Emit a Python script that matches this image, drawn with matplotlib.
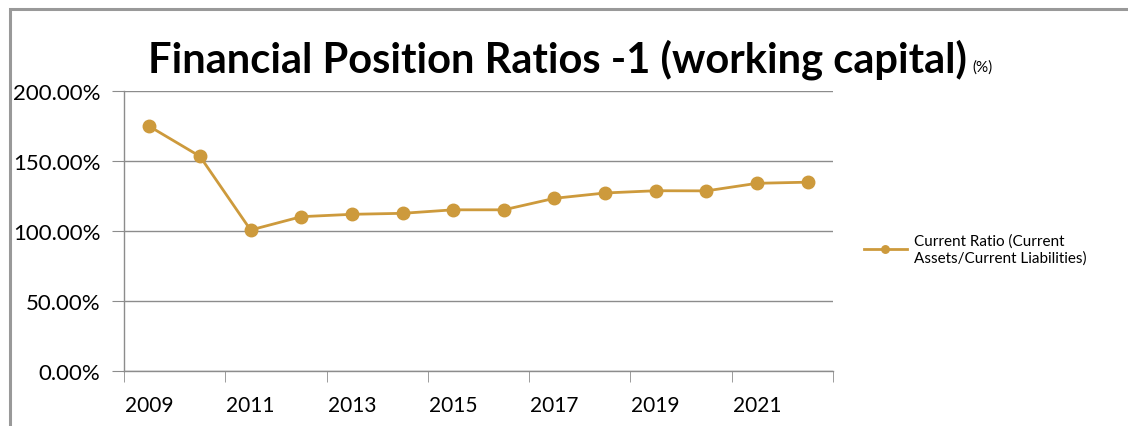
import matplotlib
matplotlib.use("Agg")
import matplotlib.pyplot as plt
from matplotlib.patches import Rectangle
from matplotlib.ticker import FuncFormatter

plt.rcParams['font.family'] = ['Lato', 'DejaVu Sans']

# current ratio per year, in percent
years = [str(y) for y in range(2009, 2023)]
current_ratio = [174.6, 153.2, 100.7, 110.2, 111.9, 112.6, 115.1,
                 115.1, 123.3, 127.1, 128.7, 128.6, 134.0, 134.8]
y_ticks = [0, 50, 100, 150, 200]

gold = '#CD9A3C'
grey = '#8C8C8C'

fig = plt.figure(figsize=(11.28, 4.27), dpi=100)
fig.patches.append(Rectangle((10 / 1128, -0.1), 1.2, 1.1 - 10 / 427,
                             transform=fig.transFigure, fill=False,
                             edgecolor='#999999', linewidth=2.2))

ax = fig.add_axes([124 / 1128, 54.7 / 427, 709 / 1128, 280.6 / 427])
x = list(range(len(years)))
ax.plot(x, current_ratio, color=gold, linewidth=2, marker='o',
        markersize=9, label='Current Ratio (Current\nAssets/Current Liabilities)')

ax.set_xlim(-0.5, len(years) - 0.5)
ax.set_ylim(0, 200)
ax.set_yticks(y_ticks)
ax.yaxis.set_major_formatter(FuncFormatter(lambda v, p: f'{v:.2f}%'))
ax.grid(axis='y', color=grey, linewidth=1)
ax.set_axisbelow(True)

# labels on every other year, tick marks on category boundaries
ax.set_xticks(x[::2])
ax.set_xticklabels(years[::2])
ax.set_xticks([i - 0.5 for i in range(0, len(years) + 1, 2)], minor=True)
ax.tick_params(axis='x', which='major', length=0, pad=17, labelsize=15)
ax.tick_params(axis='x', which='minor', length=8, color=grey, direction='out')
ax.tick_params(axis='y', length=9, color=grey, labelsize=16, pad=8)

for side in ('top', 'right'):
    ax.spines[side].set_visible(False)
for side in ('left', 'bottom'):
    ax.spines[side].set_color(grey)
    ax.spines[side].set_linewidth(1)

fig.text(148 / 1128, 1 - 73 / 427,
         'Financial Position Ratios -1 (working capital)',
         ha='left', va='baseline', fontsize=30, fontweight='bold')
fig.text(972 / 1128, 1 - 72 / 427, '(%)', ha='left', va='baseline',
         fontsize=11)

fig.legend(loc='center left', bbox_to_anchor=(850 / 1128, 1 - 250 / 427),
           frameon=False, fontsize=11, handlelength=2.8, handletextpad=0.5,
           markerscale=0.6)

fig.savefig('out.png', dpi=100, facecolor='white')
